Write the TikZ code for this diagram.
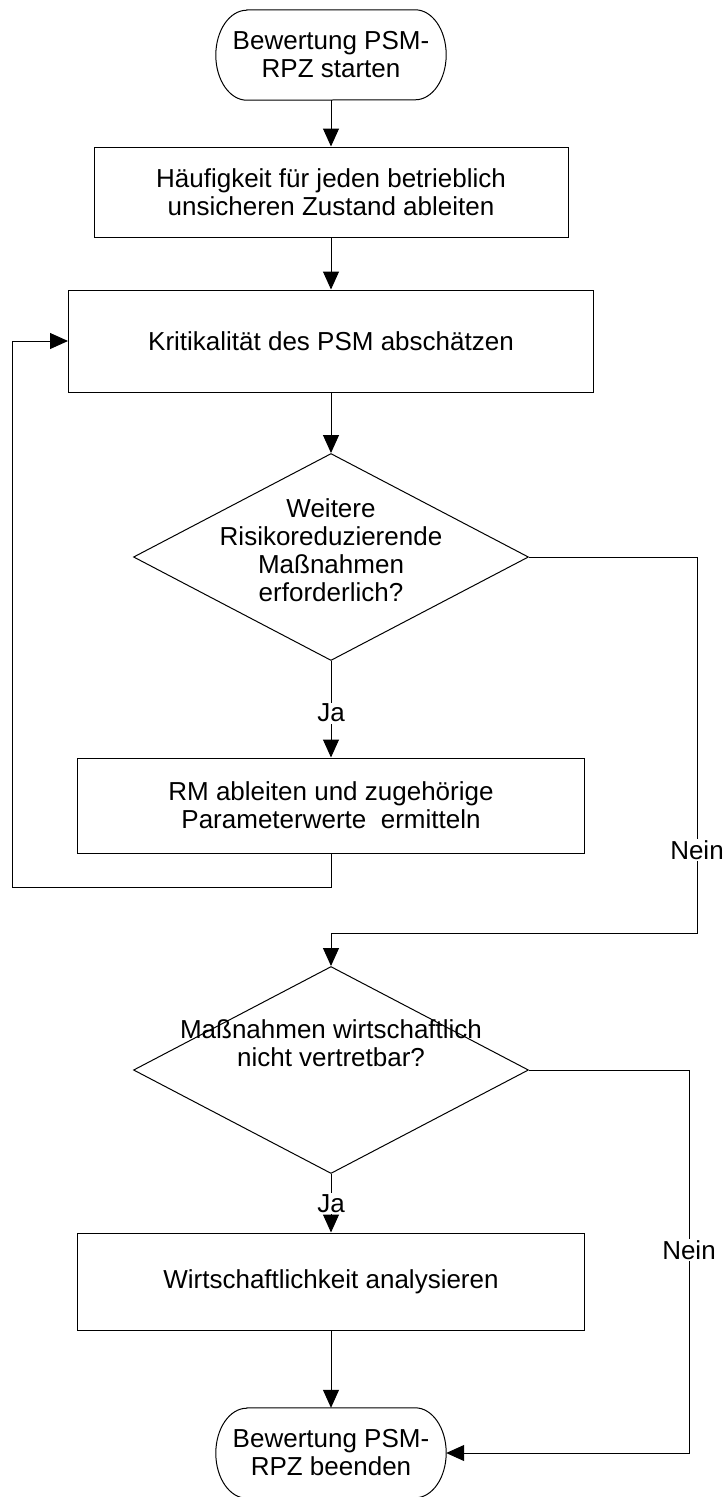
\documentclass[tikz,border=0pt]{standalone}
\usepackage{fontspec}
\setmainfont{Liberation Sans}
\usetikzlibrary{arrows.meta,shapes.geometric}
\begin{document}
\begin{tikzpicture}[x=1pt,y=-1pt,
  every node/.style={font=\fontsize{26}{28}\selectfont, align=center},
  proc/.style={draw, line width=1pt, rectangle, inner sep=0pt},
  decision/.style={draw, line width=1pt, diamond, inner sep=0pt, minimum width=395pt, minimum height=207pt},
  terminal/.style={rectangle, inner sep=0pt, minimum width=230pt, minimum height=90pt},
  termline/.style={line width=1pt},
  conn/.style={line width=1pt, -{Triangle[length=18pt,width=16pt]}},
  lbl/.style={fill=white, inner sep=1.5pt}]
\useasboundingbox (0,0) rectangle (728,1497);

% terminals
\node[terminal] (start) at (331,55) {Bewertung PSM-\\RPZ starten};
\draw[termline] ([xshift=31pt]start.north west) -- ([xshift=-31pt]start.north east)
  arc[start angle=90,end angle=-90,x radius=31pt,y radius=45pt]
  -- ([xshift=31pt]start.south west)
  arc[start angle=270,end angle=90,x radius=31pt,y radius=45pt] -- cycle;

\node[terminal] (end) at (331,1453) {Bewertung PSM-\\RPZ beenden};
\draw[termline] ([xshift=31pt]end.north west) -- ([xshift=-31pt]end.north east)
  arc[start angle=90,end angle=-90,x radius=31pt,y radius=45pt]
  -- ([xshift=31pt]end.south west)
  arc[start angle=270,end angle=90,x radius=31pt,y radius=45pt] -- cycle;

% process boxes
\node[proc, minimum width=474pt, minimum height=90pt] (b1) at (331,192)
  {Häufigkeit für jeden betrieblich\\unsicheren Zustand ableiten};
\node[proc, minimum width=525pt, minimum height=102pt] (b2) at (331,341)
  {Kritikalität des PSM abschätzen};
\node[proc, minimum width=507pt, minimum height=95pt] (b3) at (331,805.5)
  {RM ableiten und zugehörige\\Parameterwerte\ \ ermitteln};
\node[proc, minimum width=507pt, minimum height=97pt] (b4) at (331,1281.5)
  {Wirtschaftlichkeit analysieren};

% decisions
\node[decision] (d1) at (331,557) {};
\node (d1t) at (331,550) {Weitere\\Risikoreduzierende\\Maßnahmen\\erforderlich?};
\node[decision] (d2) at (331,1070) {};
\node (d2t) at (331,1043) {Maßnahmen wirtschaftlich\\nicht vertretbar?};

% helper coordinates
\coordinate (n1) at (697,933);
\coordinate (n2x) at (689,0);
\coordinate (lp) at (12,887);

% connectors
\draw[conn] (start.south) -- (b1.north);
\draw[conn] (b1.south) -- (b2.north);
\draw[conn] (b2.south) -- (d1.north);
\draw[conn] (d1.south) -- node[lbl,pos=0.54]{Ja} (b3.north);
\draw[conn] (b3.south) -- (b3.south |- lp) -- (lp) -- (lp |- b2.west) -- (b2.west);
\draw[conn] (d1.east) -- (d1.east -| n1) -- node[lbl,pos=0.78]{Nein} (n1) -- (n1 -| d2.north) -- (d2.north);
\draw[conn] (d2.south) -- node[lbl,pos=0.51]{Ja} (b4.north);
\draw[conn] (b4.south) -- (end.north);
\draw[conn] (d2.east) -- (d2.east -| n2x) -- node[lbl,pos=0.47]{Nein} (end.east -| n2x) -- (end.east);
\end{tikzpicture}
\end{document}
